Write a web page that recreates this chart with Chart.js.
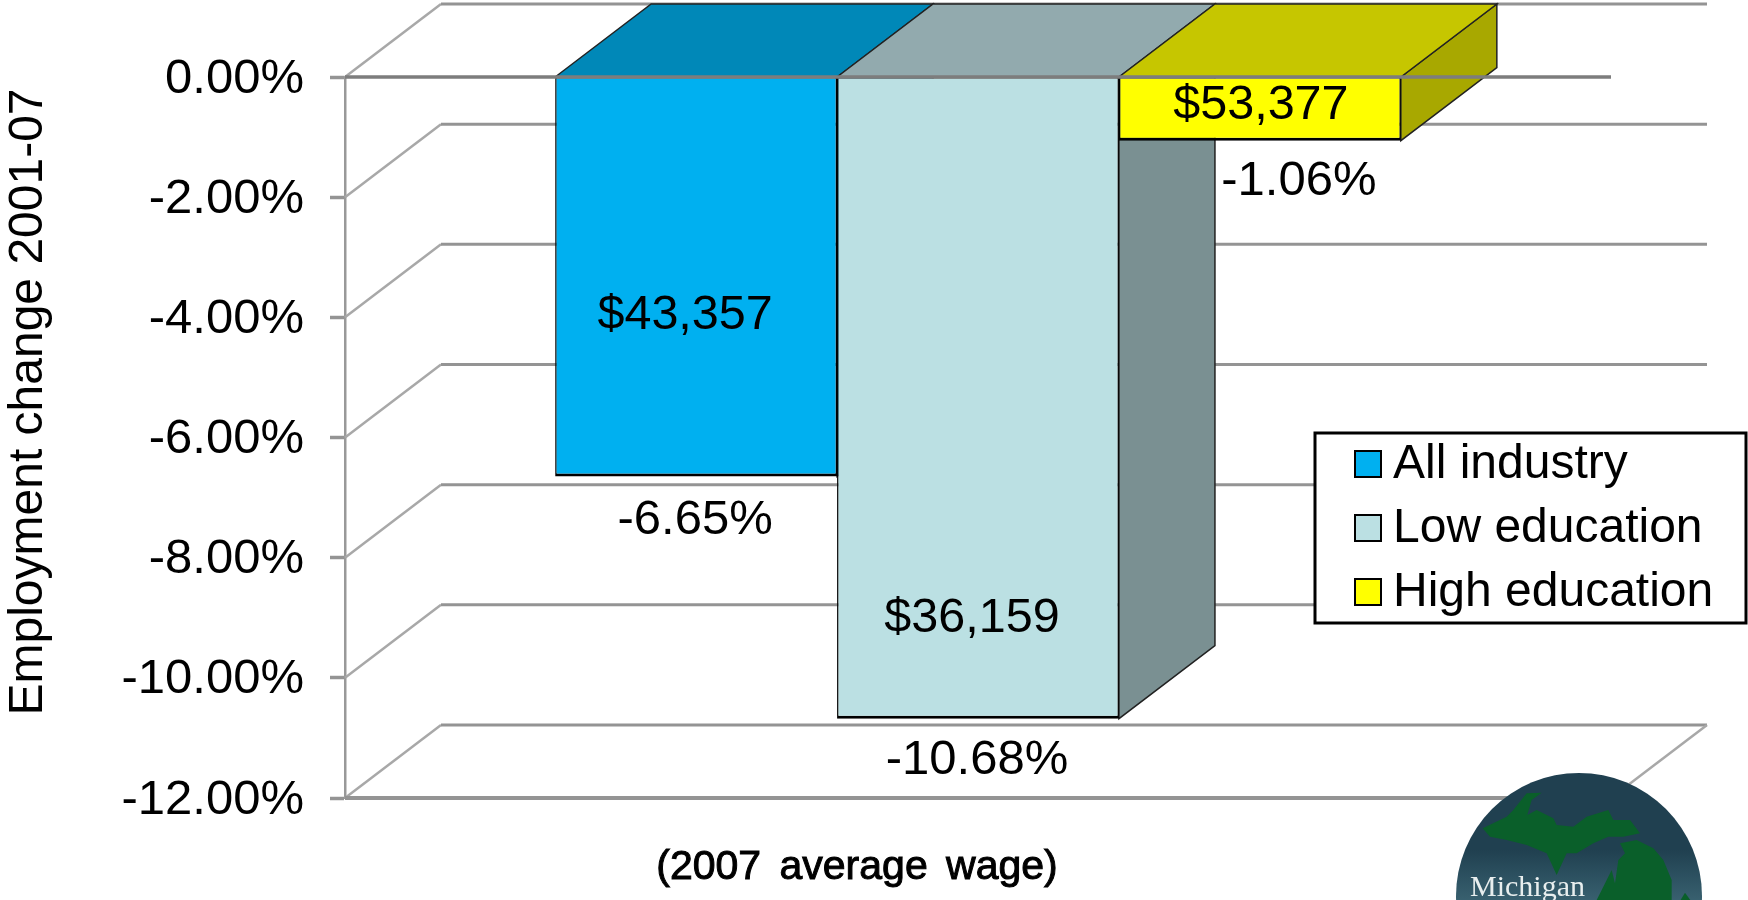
<!DOCTYPE html>
<html>
<head>
<meta charset="utf-8">
<title>Employment change 2001-07</title>
<style>
  html, body { margin: 0; padding: 0; background: #fff; overflow: hidden; }
  canvas { display: block; }
</style>
<script src="https://cdn.jsdelivr.net/npm/chart.js@4/dist/chart.umd.min.js"></script>
</head>
<body>
<canvas id="chart" width="1748" height="900"></canvas>
<script>
// Values
const categories = ['2001-07'];
const seriesNames = ['All industry', 'Low education', 'High education'];
const allIndustry = [-6.65];
const lowEducation = [-10.68];
const highEducation = [-1.06];
const wageLabels = ['$43,357', '$36,159', '$53,377'];
const changeLabels = ['-6.65%', '-10.68%', '-1.06%'];
const tickLabels = ['-12.00%', '-10.00%', '-8.00%', '-6.00%', '-4.00%', '-2.00%', '0.00%'];
const yTitle = 'Employment change 2001-07';
const xTitle = '(2007 average wage)';

const frontColors = ['#00B0F0', '#BBE0E3', '#FFFF00'];
const topColors = ['#0088B8', '#92AAAE', '#C6C600'];
const sideColors = ['#006E94', '#7A9092', '#A8A800'];

// how far the back wall sits from the front plane
const depthX = 96;
const depthY = 73;
const gridColor = '#949494';
const font = '"Liberation Sans", Arial, sans-serif';

function poly(ctx, pts, fill, stroke) {
    ctx.beginPath();
    pts.forEach((p, i) => i ? ctx.lineTo(p[0], p[1]) : ctx.moveTo(p[0], p[1]));
    ctx.closePath();
    ctx.fillStyle = fill;
    ctx.fill();
    if (stroke) {
        ctx.strokeStyle = stroke;
        ctx.lineWidth = 1.5;
        ctx.stroke();
    }
}

function line(ctx, x1, y1, x2, y2, color, width) {
    ctx.beginPath();
    ctx.moveTo(x1, y1);
    ctx.lineTo(x2, y2);
    ctx.strokeStyle = color;
    ctx.lineWidth = width;
    ctx.stroke();
}

function text(ctx, str, x, y, size, align) {
    ctx.font = size + 'px ' + font;
    ctx.fillStyle = '#000';
    ctx.textAlign = align || 'center';
    ctx.textBaseline = 'middle';
    ctx.fillText(str, x, y);
}

// back wall, side walls and floor of the 3D box, then bar sides and tops
const boxPlugin = {
    id: 'box',
    beforeDatasetsDraw(chart) {
        const ctx = chart.ctx;
        const area = chart.chartArea;
        const y = chart.scales.y;
        ctx.save();
        y.ticks.forEach(t => {
            const py = y.getPixelForValue(t.value);
            line(ctx, area.left, py, area.left + depthX, py - depthY, '#a8a8a8', 2.5);
            line(ctx, area.left + depthX, py - depthY, area.right + depthX, py - depthY, gridColor, 3);
        });
        const floor = y.getPixelForValue(-12);
        line(ctx, area.right, floor, area.right + depthX, floor - depthY, '#a8a8a8', 2.5);
        line(ctx, area.left, floor, area.right, floor, gridColor, 4);

        chart.data.datasets.forEach((ds, i) => {
            const bar = chart.getDatasetMeta(i).data[0];
            const l = bar.x - bar.width / 2;
            const r = bar.x + bar.width / 2;
            const t = y.getPixelForValue(0);
            const b = bar.y;
            poly(ctx, [[r, t], [r + depthX, t - depthY], [r + depthX, b - depthY], [r, b]], sideColors[i], '#222');
            poly(ctx, [[l, t], [l + depthX, t - depthY], [r + depthX, t - depthY], [r, t]], topColors[i], '#222');
        });
        ctx.restore();
    },
    afterDatasetsDraw(chart) {
        const ctx = chart.ctx;
        const area = chart.chartArea;
        const y = chart.scales.y;
        ctx.save();
        const zero = y.getPixelForValue(0);
        line(ctx, area.left, zero, area.right, zero, '#7d7d7d', 3.5);

        // labels on and below the bars
        const wageShift = [[-11, 39], [-6, 221], [1, -3]];
        const changeShift = [[-1, 44], [-1, 42], [39, 41]];
        chart.data.datasets.forEach((ds, i) => {
            const bar = chart.getDatasetMeta(i).data[0];
            const mid = (zero + bar.y) / 2;
            text(ctx, wageLabels[i], bar.x + wageShift[i][0], mid + wageShift[i][1], 48.5);
            text(ctx, changeLabels[i], bar.x + changeShift[i][0], bar.y + changeShift[i][1], 49);
        });

        // the x title is heavy and widely spaced in the original
        ctx.font = '41px ' + font;
        ctx.wordSpacing = '7px';
        ctx.fillStyle = '#000';
        ctx.strokeStyle = '#000';
        ctx.lineWidth = 1;
        ctx.textAlign = 'center';
        ctx.textBaseline = 'middle';
        ctx.fillText(xTitle, 857, 868);
        ctx.strokeText(xTitle, 857, 868);
        ctx.wordSpacing = '0px';

        ctx.save();
        ctx.translate(29, 402);
        ctx.rotate(-Math.PI / 2);
        text(ctx, yTitle, 0, 0, 48);
        ctx.restore();

        drawLegend(chart);
        drawLogo(ctx);
        ctx.restore();
    }
};

function drawLegend(chart) {
    const ctx = chart.ctx;
    ctx.fillStyle = '#fff';
    ctx.fillRect(1315, 433, 432, 190);
    ctx.strokeStyle = '#000';
    ctx.lineWidth = 3;
    ctx.strokeRect(1315, 433, 431, 190);
    chart.data.datasets.forEach((ds, i) => {
        const row = 464 + i * 64;
        ctx.fillStyle = ds.backgroundColor;
        ctx.fillRect(1355, row - 13, 26, 26);
        ctx.strokeStyle = '#000';
        ctx.lineWidth = 2;
        ctx.strokeRect(1355, row - 13, 26, 26);
        text(ctx, ds.label, 1393, row + 1, 48, 'left');
    });
}

function drawLogo(ctx) {
    ctx.save();
    ctx.beginPath();
    ctx.arc(1579, 896, 123, 0, Math.PI * 2);
    const sea = ctx.createLinearGradient(0, 850, 0, 900);
    sea.addColorStop(0, '#204050');
    sea.addColorStop(1, '#38606F');
    ctx.fillStyle = sea;
    ctx.fill();
    ctx.clip();
    const upper = [[548, 565], [620, 530], [640, 510], [680, 460], [725, 458], [695, 480], [682, 525], [710, 510],
        [760, 535], [770, 555], [820, 560], [860, 530], [925, 510], [940, 540], [990, 540], [1020, 580], [970, 590],
        [925, 590], [880, 610], [830, 640], [800, 640], [770, 705], [740, 640], [680, 615], [620, 600], [570, 590]];
    const lower = [[960, 610], [1010, 600], [1060, 625], [1090, 660], [1115, 720], [1115, 800], [880, 800],
        [910, 740], [935, 690], [945, 730], [955, 660], [975, 640]];
    const thumb = [[1130, 800], [1155, 758], [1185, 800]];
    const toPage = p => [1300 + p[0] / 3, 640 + p[1] / 3];
    poly(ctx, upper.map(toPage), '#0A5F2A');
    poly(ctx, lower.map(toPage), '#0A5F2A');
    poly(ctx, thumb.map(toPage), '#0A5F2A');
    ctx.font = '30px "Liberation Serif", serif';
    ctx.fillStyle = '#E8EEEE';
    ctx.textAlign = 'left';
    ctx.textBaseline = 'alphabetic';
    ctx.fillText('Michigan', 1470, 896);
    ctx.restore();
}

new Chart(document.getElementById('chart'), {
    type: 'bar',
    data: {
        labels: categories,
        datasets: [allIndustry, lowEducation, highEducation].map((values, i) => ({
            label: seriesNames[i],
            data: values,
            backgroundColor: frontColors[i],
            borderColor: '#000',
            borderWidth: { left: 1.5, right: 1.5, top: 1, bottom: 3 },
            borderSkipped: false,
            barPercentage: 1,
            categoryPercentage: 0.668
        }))
    },
    options: {
        responsive: false,
        animation: false,
        layout: { padding: { left: 0, top: 77, right: 137, bottom: 102 } },
        plugins: { legend: { display: false }, tooltip: { enabled: false } },
        scales: {
            x: { display: false },
            y: {
                min: -12,
                max: 0,
                afterFit: s => { s.width = 345; },
                border: { display: true, color: '#999', width: 2.5 },
                grid: { drawOnChartArea: false, tickLength: 15, tickColor: gridColor, tickWidth: 3.5 },
                ticks: {
                    stepSize: 2,
                    padding: 26,
                    labelOffset: 2,
                    color: '#000',
                    font: { family: font, size: 49 },
                    callback: (v, i) => tickLabels[i]
                }
            }
        }
    },
    plugins: [boxPlugin]
});
</script>
</body>
</html>
